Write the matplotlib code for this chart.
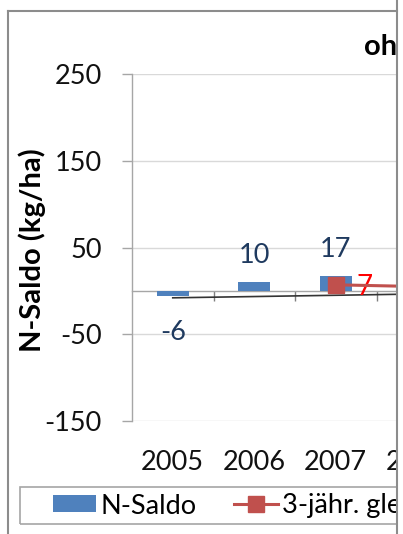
import numpy as np
import matplotlib
matplotlib.use("Agg")
import matplotlib.pyplot as plt
from matplotlib.patches import Rectangle
from matplotlib.lines import Line2D

# --- data -------------------------------------------------------------
years = ["2005", "2006", "2007", "2008"]
n_saldo = [-6, 10, 17, -13]                  # kg N/ha
mittel_3j = [np.nan, np.nan, 7, 5]           # 3-year moving average
trend_ends = [-8.0, -3.6]                    # linear trend at first / last year
series_names = ["N-Saldo", "3-jähr. gleitendes Mittel"]
title_text = "ohne"
y_ticks = [-150, -50, 50, 150, 250]

# --- style --------------------------------------------------------------
plt.rcParams["font.family"] = ["Lato", "DejaVu Sans"]
plt.rcParams["axes.unicode_minus"] = False
BLUE = "#4F81BD"
RED = "#C0504D"
LABEL_BLUE = "#1F3A5F"
GRID = "#D9D9D9"
AXIS = "#A6A6A6"
FS = 19.5

W, H = 403, 534
fig = plt.figure(figsize=(W / 100, H / 100), dpi=100)


def fx(px):
    return px / W


def fy(py):
    return 1 - py / H


cat_w = 81.5
ax_left, ax_top, ax_bot = 132, 74, 421
n = len(years)
ax = fig.add_axes([fx(ax_left), fy(ax_bot), n * cat_w / W, (ax_bot - ax_top) / H])
x = np.arange(n)
ax.set_xlim(-0.5, n - 0.5)
ax.set_ylim(-150, 250)

# y axis
ax.set_yticks(y_ticks)
ax.yaxis.grid(True, color=GRID, lw=1)
ax.set_axisbelow(True)
ax.tick_params(axis="y", length=7.2, width=1, color=AXIS, pad=14.4,
               labelsize=FS, labelcolor="#111111")
for s in ("top", "right", "bottom"):
    ax.spines[s].set_visible(False)
ax.spines["left"].set_color(AXIS)
ax.spines["left"].set_linewidth(1)

# category labels at the bottom of the plot area
ax.set_xticks(x, years)
ax.tick_params(axis="x", length=0, pad=21, labelsize=FS, labelcolor="#111111")

# horizontal axis line through zero, ticks between categories
zero_pos = (0 - ax.get_ylim()[0]) / (ax.get_ylim()[1] - ax.get_ylim()[0])
zax = ax.secondary_xaxis(zero_pos)
zax.set_xticks(x[:-1] + 0.5, [""] * (n - 1))
zax.tick_params(axis="x", length=7.2, width=1, color="#7F7F7F", direction="out")
zax.spines["bottom"].set_color(AXIS)
zax.spines["bottom"].set_linewidth(1)

ax.set_ylabel("N-Saldo (kg/ha)", fontsize=21, fontweight="bold")
ax.yaxis.set_label_coords((46 - ax_left) / (n * cat_w), (ax_bot - 250) / (ax_bot - ax_top))

# bars
bars = ax.bar(x, n_saldo, width=0.39, color=BLUE, zorder=2)

# linear trend
ax.plot([x[0], x[-1]], trend_ends, color="#333333", lw=1.2, zorder=3)

# moving average
ma_line, = ax.plot(x, mittel_3j, color=RED, lw=2.2, marker="s", ms=11.5,
                   mec=RED, mfc=RED, zorder=4)

# value labels
for xi, v in zip(x, n_saldo):
    if v >= 0:
        ax.annotate(f"{v}", (xi, v), xytext=(0, 10), textcoords="offset points",
                    ha="center", va="bottom", fontsize=FS, color=LABEL_BLUE)
    else:
        ax.annotate(f"{v}", (xi, v), xytext=(0, -17), textcoords="offset points",
                    ha="center", va="top", fontsize=FS, color=LABEL_BLUE)
for xi, v in zip(x, mittel_3j):
    if np.isfinite(v):
        ax.annotate(f"{v:.0f}", (xi, v), xytext=(15, 0), textcoords="offset points",
                    ha="left", va="center_baseline", fontsize=FS + 0.5, color="#FF0000")

# title
fig.text(fx(364), fy(55), title_text, fontsize=21, fontweight="bold",
         va="baseline", ha="left", color="#000000")

# legend
fig.legend(handles=[bars, ma_line], labels=series_names, ncol=2,
           loc="center left", bbox_to_anchor=(fx(53), fy(506)), frameon=False,
           fontsize=FS, handlelength=1.6, handleheight=0.59, handletextpad=0.15,
           columnspacing=1.4, borderpad=0, borderaxespad=0)
fig.add_artist(Rectangle((fx(20), fy(524)), fx(W) - fx(20) + 0.1, (524 - 487) / H,
                         transform=fig.transFigure, fill=False,
                         edgecolor=AXIS, lw=1.2, zorder=6))

# chart area frame (right part cut off)
fig.add_artist(Rectangle((fx(398), 0), 1, 1, transform=fig.transFigure,
                         color="white", zorder=50))
BORDER = "#8C8C8C"
fig.add_artist(Line2D([fx(8), fx(397)], [fy(11), fy(11)], transform=fig.transFigure,
                      color=BORDER, lw=1.5, zorder=51))
fig.add_artist(Line2D([fx(8), fx(8)], [fy(11), 0], transform=fig.transFigure,
                      color=BORDER, lw=1.5, zorder=51))
fig.add_artist(Line2D([fx(397), fx(397)], [0, 1], transform=fig.transFigure,
                      color=BORDER, lw=1.5, zorder=51))

fig.savefig("out.png", dpi=100)
